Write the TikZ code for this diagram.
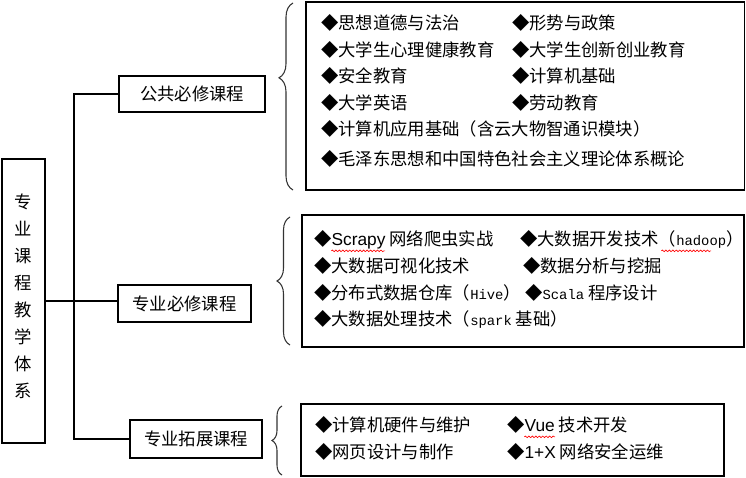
\documentclass[tikz,border=0pt]{standalone}
\usepackage{fontspec}
\usepackage{xcolor}
\usetikzlibrary{decorations.pathreplacing,decorations.pathmorphing}
\setmainfont{Noto Sans CJK SC}
\newfontfamily\arialfont{Liberation Sans}
\newfontfamily\songlatin[Scale=0.8]{Liberation Mono}

\tikzset{
    catbox/.style={draw, line width=0.8pt, inner sep=0pt, font=\fontsize{13}{15}\selectfont},
    item/.style={anchor=base west, inner sep=0pt, font=\fontsize{13}{15}\selectfont},
    bracket/.style={decorate, line width=0.8pt, black!80},
    spellmark/.style={red, line width=0.5pt, decorate, decoration={snake, amplitude=0.6pt, segment length=2.6pt}},
}

\begin{document}
\begin{tikzpicture}[x=0.75pt, y=-0.75pt]
            \useasboundingbox (0,0) rectangle (746,478);

            % left column
            \node[catbox, minimum width=32.25pt, minimum height=213pt] (root) at (23.5,301) {};
            \node[inner sep=0pt, align=center, font=\fontsize{13}{20.25}\selectfont] (roottext) at (23.5,296)
                {专\\业\\课\\程\\教\\学\\体\\系};
            \node[catbox, minimum width=109.5pt, minimum height=27pt] (pub) at (192,94) {公共必修课程};
            \node[catbox, minimum width=99.75pt, minimum height=27.75pt] (maj) at (184.5,303.5) {专业必修课程};
            \node[catbox, minimum width=99pt, minimum height=28.5pt] (ext) at (196,439) {专业拓展课程};

            \coordinate (trunk) at (74,0);
            \draw[line width=0.8pt] (root.east) -- (root.east -| maj.west);
            \draw[line width=0.8pt] (pub.west) -- (pub.west -| trunk) -- (ext.west -| trunk) -- (ext.west);

            % braces
            \draw[bracket, decoration={brace, amplitude=10.5pt, aspect=0.6}] (293,190) -- (293,3);
            \draw[bracket, decoration={brace, amplitude=9.75pt}] (290,345) -- (290,217);
            \draw[bracket, decoration={brace, amplitude=7.5pt}] (282,475) -- (282,406);

            % course lists
            \draw[line width=0.9pt] (306,2) rectangle (744.5,190);
            \draw[line width=0.9pt] (302,215) rectangle (744,347);
            \draw[line width=0.9pt] (301,404) rectangle (724,476);

            \foreach \x/\y/\t [count=\n] in {
                322/23/{◆思想道德与法治}, 513/23/{◆形势与政策},
                322/50/{◆大学生心理健康教育}, 513/50/{◆大学生创新创业教育},
                322/76/{◆安全教育}, 513/76/{◆计算机基础},
                322/103/{◆大学英语}, 513/103/{◆劳动教育},
                322/129/{◆计算机应用基础（含云大物智通识模块）},
                322/159/{◆毛泽东思想和中国特色社会主义理论体系概论}}{
                \node[item] (pubitem\n) at (\x-1,\y+6.5) {\t};
            }
            \foreach \x/\y/\t [count=\n] in {
                315/239/{◆{\arialfont Scrapy} 网络爬虫实战},
                521/239/{◆大数据开发技术（{\songlatin hadoop}）},
                315/266/{◆大数据可视化技术}, 524/266/{◆数据分析与挖掘},
                315/293/{◆分布式数据仓库（{\songlatin Hive}）}, 526/293/{◆{\songlatin Scala} 程序设计},
                315/319/{◆大数据处理技术（{\songlatin spark} 基础）}}{
                \node[item] (majitem\n) at (\x-1,\y+6.5) {\t};
            }
            \foreach \x/\y/\t [count=\n] in {
                316/425/{◆计算机硬件与维护}, 508/425/{◆{\arialfont Vue} 技术开发},
                316/452/{◆网页设计与制作}, 508/452/{◆{\arialfont 1+X} 网络安全运维}}{
                \node[item] (extitem\n) at (\x-1,\y+6.5) {\t};
            }

            % spelling marks
            \draw[spellmark] ([xshift=13pt, yshift=-4pt]majitem1.base west) -- ++(40.4pt,0);
            \draw[spellmark] ([xshift=106pt, yshift=-4pt]majitem2.base west) -- ++(37.4pt,0);
            \draw[spellmark] ([xshift=13pt, yshift=-4pt]extitem2.base west) -- ++(23.1pt,0);
        \end{tikzpicture}
\end{document}
